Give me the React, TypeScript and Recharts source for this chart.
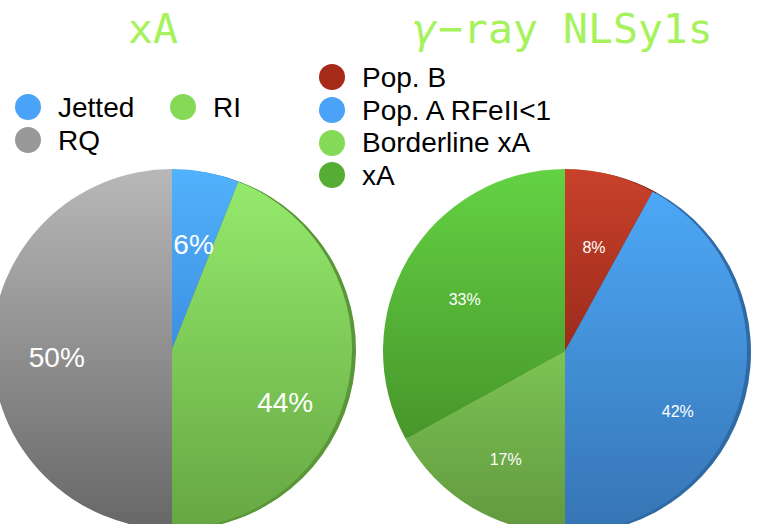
import { PieChart, Pie, Cell } from 'recharts';

const xaNames = ['Jetted', 'RI', 'RQ'];
const xaValues = [6, 44, 50];
const xaGrads = ['gJet', 'gRI', 'gRQ'];
const xaRims = ['#2f679c', '#5b963a', '#5c5c5c'];
const xaDots = ['#4aa3f7', '#84d957', '#999999'];

const gNames = ['Pop. B', 'Pop. A RFeII<1', 'Borderline xA', 'xA'];
const gValues = [8, 42, 17, 33];
const gGrads = ['gPopB', 'gPopA', 'gBord', 'gXA'];
const gRims = ['#6b1e12', '#2f6aa4', '#55883a', '#3d8424'];
const gDots = ['#a52a17', '#4aa3f7', '#84d957', '#55ad34'];

const xaData = xaNames.map((name, i) => ({ name, value: xaValues[i] }));
const gData = gNames.map((name, i) => ({ name, value: gValues[i] }));

const gradients: [string, string, string][] = [
  ['gJet', '#52b2fc', '#3d8fe2'],
  ['gRI', '#94ea6c', '#66a742'],
  ['gRQ', '#b8b8b8', '#676767'],
  ['gPopB', '#c9412a', '#9c2b1b'],
  ['gPopA', '#4da8f6', '#3674b4'],
  ['gBord', '#7cc454', '#62983f'],
  ['gXA', '#64d244', '#47962a'],
];

const RAD = Math.PI / 180;

function makeLabel(size: number, frac: number) {
  return (props: any) => {
    const { cx, cy, midAngle, outerRadius, percent } = props;
    const r = outerRadius * frac;
    const c = Math.cos(-midAngle * RAD);
    const x = cx + r * c;
    // slight downward drift to mimic the tilted look of the original
    const y = cy + r * Math.sin(-midAngle * RAD) + 8 + 25 * Math.max(0, c) ** 2;
    return (
      <text
        x={x}
        y={y}
        fill="#ffffff"
        fontSize={size}
        fontFamily="'Liberation Sans', Arial, sans-serif"
        textAnchor="middle"
        dominantBaseline="central"
      >
        {`${Math.round(percent * 100)}%`}
      </text>
    );
  };
}

const titleStyle: React.CSSProperties = {
  position: 'absolute',
  fontFamily: "'DejaVu Sans Mono', monospace",
  fontSize: 41.5,
  lineHeight: '40px',
  color: '#a6f25c',
  whiteSpace: 'nowrap',
};

function LegendItem({ x, y, tx, color, label }: { x: number; y: number; tx: number; color: string; label: string }) {
  return (
    <>
      <div
        style={{
          position: 'absolute',
          left: x - 13,
          top: y - 13,
          width: 26,
          height: 26,
          borderRadius: 13,
          background: color,
        }}
      />
      <div
        style={{
          position: 'absolute',
          left: tx,
          top: y + 10.5 - 23.7,
          fontFamily: "'Liberation Sans', Arial, sans-serif",
          fontSize: 28,
          lineHeight: '28px',
          color: '#000',
          whiteSpace: 'nowrap',
        }}
      >
        {label}
      </div>
    </>
  );
}

export default function App() {
  return (
    <div style={{ position: 'fixed', left: 0, top: 0, width: 760, height: 524, background: '#fff', overflow: 'hidden' }}>
      <svg width={0} height={0} style={{ position: 'absolute' }}>
        <defs>
          {gradients.map(([id, top, bottom]) => (
            <linearGradient key={id} id={id} x1="0" y1="0" x2="0" y2="1">
              <stop offset="0%" stopColor={top} />
              <stop offset="100%" stopColor={bottom} />
            </linearGradient>
          ))}
        </defs>
      </svg>
      <div style={{ position: 'absolute', left: 0, top: 0 }}>
        <PieChart width={760} height={524} margin={{ top: 0, right: 0, bottom: 0, left: 0 }}>
          {/* darker rims behind, shifted right to fake the edge thickness */}
          <Pie
            data={xaData}
            dataKey="value"
            cx={176}
            cy={350}
            outerRadius={180}
            startAngle={90}
            endAngle={-270}
            stroke="none"
            isAnimationActive={false}
          >
            {xaData.map((d, i) => (
              <Cell key={d.name} fill={xaRims[i]} />
            ))}
          </Pie>
          <Pie
            data={gData}
            dataKey="value"
            cx={569}
            cy={352}
            outerRadius={182}
            startAngle={90}
            endAngle={-270}
            stroke="none"
            isAnimationActive={false}
          >
            {gData.map((d, i) => (
              <Cell key={d.name} fill={gRims[i]} />
            ))}
          </Pie>
          <Pie
            data={xaData}
            dataKey="value"
            nameKey="name"
            cx={172}
            cy={349}
            outerRadius={180}
            startAngle={90}
            endAngle={-270}
            stroke="none"
            label={makeLabel(28, 0.64)}
            labelLine={false}
            isAnimationActive={false}
          >
            {xaData.map((d, i) => (
              <Cell key={d.name} fill={`url(#${xaGrads[i]})`} />
            ))}
          </Pie>
          <Pie
            data={gData}
            dataKey="value"
            nameKey="name"
            cx={565}
            cy={351}
            outerRadius={182}
            startAngle={90}
            endAngle={-270}
            stroke="none"
            label={makeLabel(16, 0.64)}
            labelLine={false}
            isAnimationActive={false}
          >
            {gData.map((d, i) => (
              <Cell key={d.name} fill={`url(#${gGrads[i]})`} />
            ))}
          </Pie>
        </PieChart>
      </div>
      <div style={{ ...titleStyle, left: 128, top: 9 }}>xA</div>
      <div style={{ ...titleStyle, left: 413, top: 9 }}>
        <span style={{ fontStyle: 'italic' }}>γ</span>−ray NLSy1s
      </div>
      <LegendItem x={28} y={107} tx={58} color={xaDots[0]} label={xaNames[0]} />
      <LegendItem x={183} y={107} tx={213} color={xaDots[1]} label={xaNames[1]} />
      <LegendItem x={28} y={140} tx={58} color={xaDots[2]} label={xaNames[2]} />
      {gNames.map((n, i) => (
        <LegendItem key={n} x={332} y={77 + i * 32.8} tx={362} color={gDots[i]} label={n} />
      ))}
    </div>
  );
}
